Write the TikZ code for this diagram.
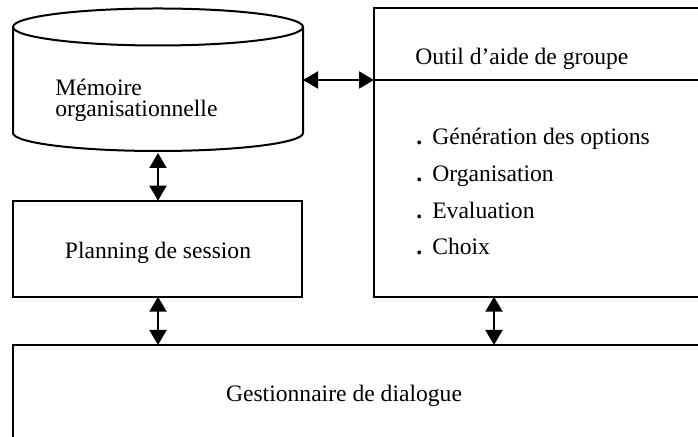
\documentclass[tikz,border=0pt]{standalone}
\usepackage{fontspec}
\setmainfont{Liberation Serif}
\usetikzlibrary{arrows.meta}

\tikzset{
  trait/.style={line width=1pt},
  fleche/.style={line width=1pt, {Triangle[length=7.5pt,width=8.5pt]}-{Triangle[length=7.5pt,width=8.5pt]}},
  texte/.style={inner sep=0pt, font=\fontsize{11.8}{14}\selectfont},
}
\newcommand{\puce}{\textbf{.}\hspace{5pt}}

\begin{document}
\begin{tikzpicture}[x=0.5pt,y=0.5pt]
\clip (0,0) rectangle (698,437);

% memoire (cylindre)
\coordinate (Mc) at (158,410);
\coordinate (Mg) at (13,410);
\coordinate (Md) at (303,410);
\coordinate (Mgb) at (13,304);
\coordinate (Mdroite) at (303,357);
\coordinate (Mbas) at (158,284);

% planning de session
\coordinate (Pa) at (13,140.3);
\coordinate (Pb) at (302,236.3);
\coordinate (Phaut) at (158,236.3);
\coordinate (Pbas) at (158,140.3);

% outil d'aide de groupe
\coordinate (Oa) at (374,140.3);
\coordinate (Ob) at (720,429);
\coordinate (Ogauche) at (374,357);
\coordinate (Osep) at (720,357);
\coordinate (Obas) at (494,140.3);

% gestionnaire de dialogue
\coordinate (Ga) at (13,-30);
\coordinate (Gb) at (720,92);
\coordinate (Ghaut1) at (158,92);
\coordinate (Ghaut2) at (494,92);

\draw[trait] (Mc) ellipse [x radius=145, y radius=18.5];
\draw[trait] (Mg) -- (Mgb) arc [start angle=180, end angle=360, x radius=145, y radius=18] -- (Md);
\draw[trait] (Pa) rectangle (Pb);
\draw[trait] (Oa) rectangle (Ob);
\draw[trait] (Ogauche) -- (Osep);
\draw[trait] (Ga) rectangle (Gb);

\node[texte, anchor=base west] (mem1) at (55,341.3) {Mémoire};
\node[texte, anchor=base west] (mem2) at (55,320.3) {organisationnelle};
\node[texte, anchor=base] (plan) at (158,178.7) {Planning de session};
\node[texte, anchor=base west] (outil) at (415,372) {Outil d’aide de groupe};
\node[texte, anchor=base west] (gen) at (416,292) {\puce Génération des options};
\node[texte, anchor=base west] (org) at (416,255.3) {\puce Organisation};
\node[texte, anchor=base west] (eval) at (416,218.7) {\puce Evaluation};
\node[texte, anchor=base west] (choix) at (416,182) {\puce Choix};
\node[texte, anchor=base] (gest) at (344,35.3) {Gestionnaire de dialogue};

\draw[fleche] (Mdroite) -- (Ogauche);
\draw[fleche] (Mbas) -- (Phaut);
\draw[fleche] (Pbas) -- (Ghaut1);
\draw[fleche] (Obas) -- (Ghaut2);
\end{tikzpicture}
\end{document}
